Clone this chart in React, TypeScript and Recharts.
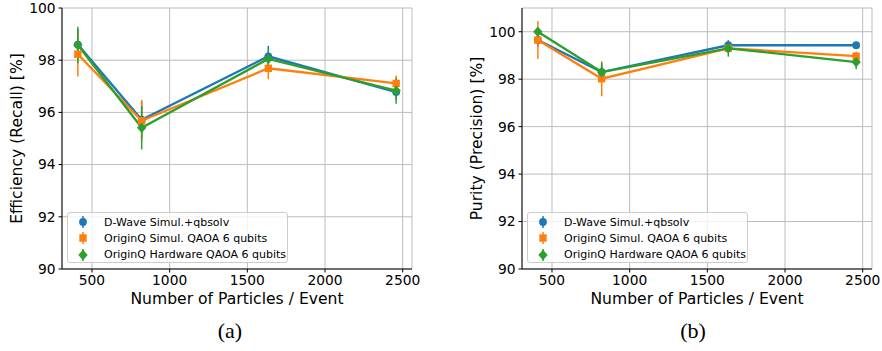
import React from "react";
import { CartesianGrid, ErrorBar, Line, LineChart, XAxis, YAxis } from "recharts";

// number of particles per event (x positions of the four points)
const particles = [409, 820, 1635, 2458];
const xTicks = [500, 1000, 1500, 2000, 2500];
const yTicks = [90, 92, 94, 96, 98, 100];

// (a) efficiency / recall [%]
const effDwave = [98.6, 95.72, 98.15, 96.78];
const effDwaveErr = [0.6, 0.7, 0.4, 0.3];
const effSimul = [98.23, 95.68, 97.69, 97.11];
const effSimulErr = [0.85, 0.8, 0.42, 0.3];
const effHardware = [98.58, 95.41, 98.05, 96.83];
const effHardwareErr = [0.7, 0.83, 0.3, 0.5];

// (b) purity / precision [%]
const purDwave = [99.65, 98.3, 99.43, 99.43];
const purDwaveErr = [0.3, 0.3, 0.12, 0.12];
const purSimul = [99.65, 98.02, 99.3, 98.97];
const purSimulErr = [0.8, 0.74, 0.2, 0.2];
const purHardware = [100.0, 98.3, 99.3, 98.72];
const purHardwareErr = [0.1, 0.4, 0.35, 0.3];

const seriesNames = ["D-Wave Simul.+qbsolv", "OriginQ Simul. QAOA 6 qubits", "OriginQ Hardware QAOA 6 qubits"];
const seriesColors = ["#1f77b4", "#ff7f0e", "#2ca02c"];
const seriesMarkers = ["circle", "square", "diamond"];

const FONT = "DejaVu Sans, sans-serif";

function buildRows(vals: number[][], errs: number[][]) {
  return particles.map((n, i) => ({
    n,
    s0: vals[0][i],
    e0: errs[0][i],
    s1: vals[1][i],
    e1: errs[1][i],
    s2: vals[2][i],
    e2: errs[2][i],
  }));
}

const effRows = buildRows([effDwave, effSimul, effHardware], [effDwaveErr, effSimulErr, effHardwareErr]);
const purRows = buildRows([purDwave, purSimul, purHardware], [purDwaveErr, purSimulErr, purHardwareErr]);

function marker(shape: string, cx: number, cy: number, color: string, key?: string) {
  if (shape === "circle") return <circle key={key} cx={cx} cy={cy} r={3.9} fill={color} />;
  if (shape === "square") return <rect key={key} x={cx - 3.7} y={cy - 3.7} width={7.4} height={7.4} fill={color} />;
  return (
    <path
      key={key}
      d={`M${cx},${cy - 5.2} L${cx + 4.7},${cy} L${cx},${cy + 5.2} L${cx - 4.7},${cy} Z`}
      fill={color}
    />
  );
}

type PanelProps = {
  rows: ReturnType<typeof buildRows>;
  left: number;
  width: number;
  yAxisWidth: number;
  marginRight: number;
  yDomain: [number, number];
  yLabel: string;
  yLabelX: number;
  caption: string;
  captionX: number;
};

function Panel({ rows, left, width, yAxisWidth, marginRight, yDomain, yLabel, yLabelX, caption, captionX }: PanelProps) {
  const plotLeft = yAxisWidth;
  const plotRight = width - marginRight;
  const midX = (plotLeft + plotRight) / 2;
  const tickStyle = { fontSize: 13.8, fill: "#000", fontFamily: FONT };
  return (
    <div style={{ position: "absolute", left, top: 0 }}>
      <LineChart width={width} height={310} data={rows} margin={{ top: 8, right: marginRight, bottom: 0, left: 0 }}>
        <CartesianGrid stroke="#bcbcbc" strokeWidth={1} />
        <XAxis
          dataKey="n"
          type="number"
          domain={[307, 2560]}
          allowDataOverflow
          ticks={xTicks}
          height={41}
          tickSize={3.5}
          tickMargin={3}
          tick={tickStyle}
          axisLine={{ stroke: "#000", strokeWidth: 1 }}
          tickLine={{ stroke: "#000" }}
          label={{
            content: () => (
              <text x={midX} y={303.5} textAnchor="middle" fontSize={15.6} fontFamily={FONT} fill="#000">
                Number of Particles / Event
              </text>
            ),
          }}
        />
        <XAxis
          xAxisId="top"
          orientation="top"
          type="number"
          domain={[307, 2560]}
          height={0}
          tick={false}
          tickLine={false}
          axisLine={{ stroke: "#000", strokeWidth: 1 }}
        />
        <YAxis
          type="number"
          domain={yDomain}
          allowDataOverflow
          ticks={yTicks}
          width={yAxisWidth}
          tickSize={3.5}
          tickMargin={3}
          tick={tickStyle}
          axisLine={{ stroke: "#000", strokeWidth: 1 }}
          tickLine={{ stroke: "#000" }}
          label={{
            content: () => (
              <text
                x={yLabelX}
                y={138.5}
                transform={`rotate(-90 ${yLabelX} 138.5)`}
                textAnchor="middle"
                dominantBaseline="central"
                fontSize={15.6}
                fontFamily={FONT}
                fill="#000"
              >
                {yLabel}
              </text>
            ),
          }}
        />
        <YAxis
          yAxisId="right"
          orientation="right"
          type="number"
          domain={yDomain}
          width={0}
          tick={false}
          tickLine={false}
          axisLine={{ stroke: "#000", strokeWidth: 1 }}
        />
        {[0, 1, 2].map((s) => (
          <Line
            key={s}
            dataKey={`s${s}`}
            stroke={seriesColors[s]}
            strokeWidth={2.3}
            isAnimationActive={false}
            dot={(p: any) => marker(seriesMarkers[s], p.cx, p.cy, seriesColors[s], `d${s}-${p.index}`)}
            activeDot={false}
          >
            <ErrorBar dataKey={`e${s}`} direction="y" width={0} stroke={seriesColors[s]} strokeWidth={1.5} />
          </Line>
        ))}
      </LineChart>
      <div
        style={{
          position: "absolute",
          left: plotLeft + 5,
          top: 212,
          width: 221,
          height: 51,
          boxSizing: "border-box",
          border: "1px solid #cccccc",
          borderRadius: 3,
          background: "rgba(255,255,255,0.8)",
          fontFamily: FONT,
          fontSize: 11,
          paddingTop: 1,
        }}
      >
        {seriesNames.map((name, s) => (
          <div key={name} style={{ display: "flex", alignItems: "center", height: 16.3 }}>
            <svg width={36} height={16} style={{ flex: "none" }}>
              <line x1={15} x2={15} y1={2} y2={14} stroke={seriesColors[s]} strokeWidth={1.5} />
              {marker(seriesMarkers[s], 15, 8, seriesColors[s])}
            </svg>
            <span style={{ whiteSpace: "nowrap", color: "#000" }}>{name}</span>
          </div>
        ))}
      </div>
      <div
        style={{
          position: "absolute",
          left: captionX - 30,
          top: 320,
          width: 60,
          textAlign: "center",
          fontFamily: "Liberation Serif, serif",
          fontSize: 22,
          lineHeight: "22px",
          color: "#000",
        }}
      >
        {caption}
      </div>
    </div>
  );
}

export default function App() {
  return (
    <div style={{ position: "absolute", left: 0, top: 0, width: 882, height: 351, background: "#fff" }}>
      <Panel
        rows={effRows}
        left={0}
        width={440}
        yAxisWidth={62}
        marginRight={28}
        yDomain={[90, 100]}
        yLabel="Efficiency (Recall) [%]"
        yLabelX={17}
        caption="(a)"
        captionX={230}
      />
      <Panel
        rows={purRows}
        left={440}
        width={442}
        yAxisWidth={82}
        marginRight={10}
        yDomain={[90, 101]}
        yLabel="Purity (Precision) [%]"
        yLabelX={37.3}
        caption="(b)"
        captionX={253}
      />
    </div>
  );
}
